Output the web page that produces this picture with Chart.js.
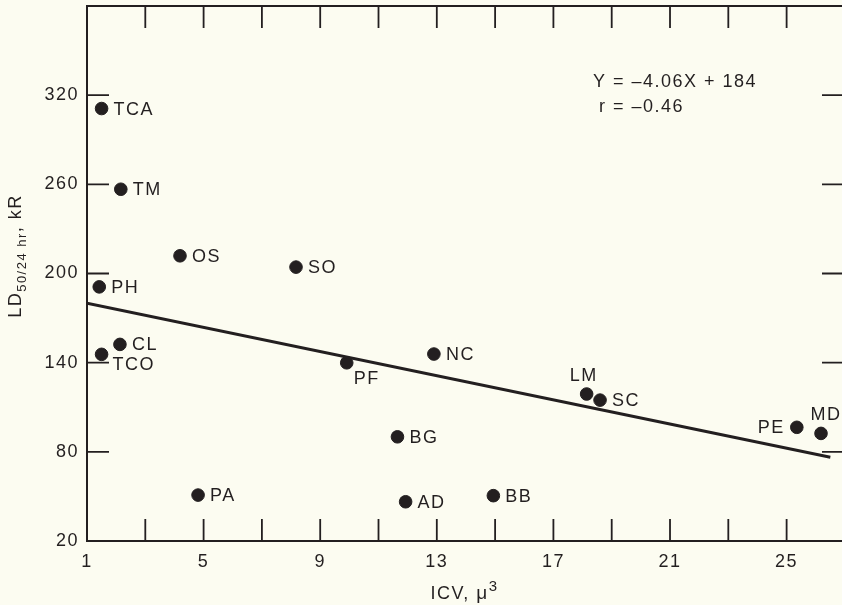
<!DOCTYPE html>
<html lang="en">
<head>
  <meta charset="UTF-8" />
  <title>LD50 vs ICV</title>
  <script src="https://cdn.jsdelivr.net/npm/chart.js"></script>
  <style>
    html, body { margin: 0; padding: 0; background: #fcfcf1; }
    #wrap { width: 842px; height: 605px; position: relative; }
  </style>
</head>
<body>
  <div id="wrap"><canvas id="ldChart"></canvas></div>

  <script>
    // species codes and their values
    const species = ['TCA', 'TM', 'OS', 'SO', 'PH', 'CL', 'TCO', 'PF', 'NC', 'BG', 'AD', 'BB', 'PA', 'LM', 'SC', 'PE', 'MD'];
    const icv = [1.5, 2.16, 4.19, 8.17, 1.42, 2.13, 1.5, 9.91, 12.9, 11.65, 11.93, 14.94, 4.81, 18.14, 18.6, 25.35, 26.18];
    const ld50 = [311, 256.7, 211.9, 204.3, 191, 152.3, 145.6, 139.9, 145.8, 90.1, 46.4, 50.5, 50.9, 118.9, 114.8, 96.5, 92.4];

    // fitted line Y = -4.06X + 184, drawn over this x range
    const slope = -4.06;
    const intercept = 184;
    const fitRange = [1, 26.5];

    const xTickLabels = [1, 5, 9, 13, 17, 21, 25];
    const yTickLabels = [20, 80, 140, 200, 260, 320];

    // where each label sits relative to its dot
    const labelSide = {
      PF: 'below', TCO: 'belowRight', LM: 'above', MD: 'above', PE: 'left'
    };

    const ink = '#231f20';
    const font = '"Liberation Sans", Arial, Helvetica, sans-serif';
    const spacing = '1.5px';

    const fitLine = fitRange.map(x => ({ x: x, y: slope * x + intercept }));
    const points = icv.map((x, i) => ({ x: x, y: ld50[i] }));

    const decor = {
      id: 'decor',
      beforeDraw(chart) {
        chart.ctx.letterSpacing = spacing;
      },
      afterDraw(chart) {
        const ctx = chart.ctx;
        const xs = chart.scales.x;
        const ys = chart.scales.y;
        const a = chart.chartArea;
        ctx.save();
        ctx.letterSpacing = spacing;
        ctx.strokeStyle = ink;
        ctx.lineWidth = 2;

        // top frame line
        ctx.beginPath();
        ctx.moveTo(a.left, a.top);
        ctx.lineTo(a.right, a.top);
        ctx.stroke();

        // inward ticks top and bottom
        ctx.lineWidth = 1.8;
        for (let v = 3; v <= 25; v += 2) {
          const px = xs.getPixelForValue(v);
          ctx.beginPath();
          ctx.moveTo(px, a.top);
          ctx.lineTo(px, a.top + 22);
          ctx.moveTo(px, a.bottom);
          ctx.lineTo(px, a.bottom - 22);
          ctx.stroke();
        }
        // inward ticks left and right
        yTickLabels.slice(1).forEach(v => {
          const py = ys.getPixelForValue(v);
          ctx.beginPath();
          ctx.moveTo(a.left, py);
          ctx.lineTo(a.left + 22, py);
          ctx.moveTo(a.right, py);
          ctx.lineTo(a.right - 20, py);
          ctx.stroke();
        });

        // species labels
        ctx.fillStyle = ink;
        ctx.font = '18px ' + font;
        ctx.textBaseline = 'middle';
        species.forEach((s, i) => {
          const px = xs.getPixelForValue(icv[i]);
          const py = ys.getPixelForValue(ld50[i]);
          const side = labelSide[s] || 'right';
          if (side === 'right') {
            ctx.textAlign = 'left';
            ctx.fillText(s, px + 12, py + 1);
          } else if (side === 'left') {
            ctx.textAlign = 'right';
            ctx.fillText(s, px - 12, py + 1);
          } else if (side === 'above') {
            ctx.textAlign = 'center';
            ctx.fillText(s, px + (s === 'MD' ? 5 : -3), py - 18);
          } else if (side === 'below') {
            ctx.textAlign = 'left';
            ctx.fillText(s, px + 7, py + 16);
          } else if (side === 'belowRight') {
            ctx.textAlign = 'left';
            ctx.fillText(s, px + 11, py + 11);
          }
        });

        // equation
        ctx.textAlign = 'left';
        ctx.fillText('Y = \u20134.06X + 184', 593, 82);
        ctx.fillText('r = \u20130.46', 599, 107);

        // x axis title with superscript
        ctx.textBaseline = 'alphabetic';
        const xParts = [['ICV, ', 18, 0], ['\u03bc', 19, 0], ['3', 15, -8]];
        let xw = 0;
        xParts.forEach(p => { ctx.font = p[1] + 'px ' + font; xw += ctx.measureText(p[0]).width; });
        let xx = (a.left + a.right) / 2 - xw / 2;
        xParts.forEach(p => {
          ctx.font = p[1] + 'px ' + font;
          ctx.fillText(p[0], xx, 599 + p[2]);
          xx += ctx.measureText(p[0]).width;
        });

        // y axis title with subscript
        ctx.translate(14, 256);
        ctx.rotate(-Math.PI / 2);
        const parts = [['LD', 18, 0], ['50/24 hr', 13, 5], [', kR', 18, 0]];
        let total = 0;
        parts.forEach(p => { ctx.font = p[1] + 'px ' + font; total += ctx.measureText(p[0]).width; });
        let cx = -total / 2;
        parts.forEach(p => {
          ctx.font = p[1] + 'px ' + font;
          ctx.fillText(p[0], cx, 7 + p[2]);
          cx += ctx.measureText(p[0]).width;
        });
        ctx.restore();
      }
    };

    new Chart(document.getElementById('ldChart'), {
      type: 'scatter',
      data: {
        datasets: [
          {
            label: 'fit',
            type: 'line',
            data: fitLine,
            borderColor: ink,
            borderWidth: 3,
            pointRadius: 0,
            fill: false
          },
          {
            label: 'species',
            data: points,
            backgroundColor: ink,
            borderColor: ink,
            pointRadius: 6.3,
            pointHoverRadius: 6.3
          }
        ]
      },
      options: {
        responsive: true,
        maintainAspectRatio: false,
        animation: false,
        layout: { autoPadding: false, padding: { top: 6, right: 0, left: 0, bottom: 0 } },
        plugins: { legend: { display: false }, tooltip: { enabled: false } },
        scales: {
          x: {
            type: 'linear',
            min: 1,
            max: 26.9,
            afterFit(scale) {
              scale.height = 64;
              scale.paddingLeft = 0;
              scale.paddingRight = 0;
            },
            afterBuildTicks(scale) { scale.ticks = xTickLabels.map(v => ({ value: v })); },
            grid: { display: false },
            border: { display: true, color: ink, width: 2 },
            ticks: {
              color: ink,
              padding: 2,
              maxRotation: 0,
              font: { family: font, size: 18 }
            }
          },
          y: {
            type: 'linear',
            min: 20,
            max: 380,
            afterFit(scale) {
              scale.width = 87;
              scale.paddingTop = 0;
              scale.paddingBottom = 0;
            },
            afterBuildTicks(scale) { scale.ticks = yTickLabels.map(v => ({ value: v })); },
            grid: { display: false },
            border: { display: true, color: ink, width: 2 },
            ticks: {
              color: ink,
              padding: 0,
              font: { family: font, size: 18 }
            }
          }
        }
      },
      plugins: [decor]
    });
  </script>
</body>
</html>
